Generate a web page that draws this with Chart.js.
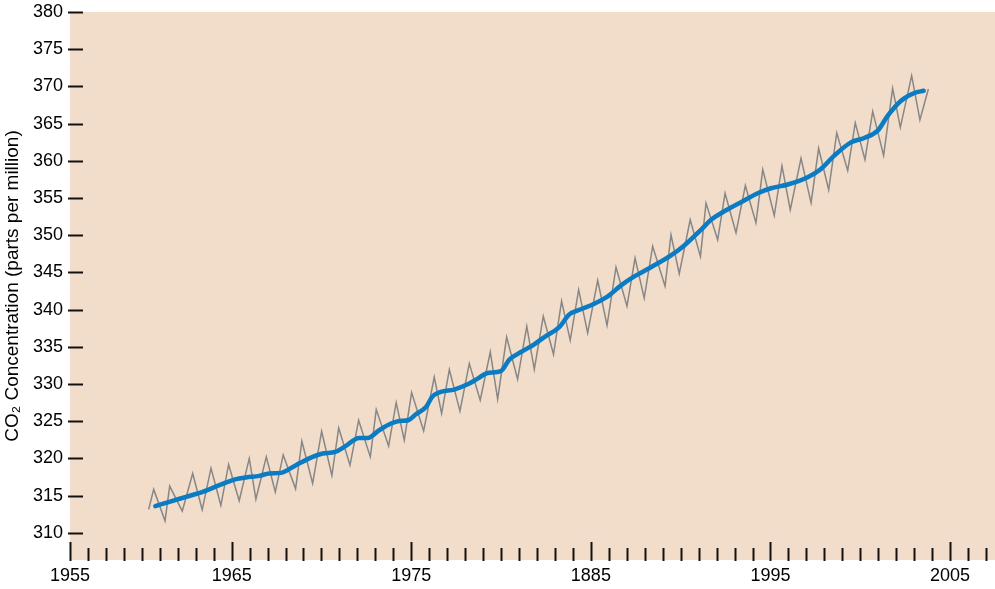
<!DOCTYPE html>
<html>
<head>
<meta charset="utf-8">
<script src="https://cdn.jsdelivr.net/npm/chart.js@4.4.1/dist/chart.umd.min.js"></script>
<style>
    html, body { margin: 0; padding: 0; background: #ffffff; }
    #wrap { width: 995px; height: 589px; position: relative; }
</style>
</head>
<body>
<div id="wrap"><canvas id="co2-chart"></canvas></div>
<script>
// 季节波动曲线（年份, ppm）
const seasonalYears = [
    1960.38, 1960.66, 1961.29, 1961.55, 1962.25, 1962.83, 1963.36, 1963.85, 1964.40, 1964.83,
    1965.42, 1965.98, 1966.35, 1966.93, 1967.43, 1967.87, 1968.56, 1968.91, 1969.51, 1970.01,
    1970.58, 1970.96, 1971.59, 1972.07, 1972.72, 1973.05, 1973.74, 1974.16, 1974.61, 1975.02,
    1975.69, 1976.28, 1976.69, 1977.12, 1977.71, 1978.23, 1978.84, 1979.40, 1979.81, 1980.31,
    1980.92, 1981.43, 1981.85, 1982.35, 1982.92, 1983.37, 1983.85, 1984.32, 1984.82, 1985.38,
    1985.90, 1986.40, 1987.01, 1987.46, 1987.97, 1988.44, 1989.13, 1989.46, 1989.92, 1990.53,
    1991.10, 1991.41, 1992.06, 1992.47, 1993.08, 1993.60, 1994.19, 1994.57, 1995.21, 1995.64,
    1996.10, 1996.70, 1997.26, 1997.68, 1998.24, 1998.69, 1999.30, 1999.72, 2000.26, 2000.69,
    2001.30, 2001.80, 2002.23, 2002.86, 2003.32, 2003.79
];
const seasonalPpm = [
    313.14, 315.83, 311.61, 316.27, 312.91, 317.97, 313.09, 318.68, 313.68, 319.18,
    314.30, 319.99, 314.52, 320.20, 315.50, 320.47, 315.91, 322.31, 316.63, 323.65,
    317.70, 324.09, 319.09, 325.13, 320.20, 326.56, 321.68, 327.50, 322.44, 328.85,
    323.69, 330.94, 326.03, 331.93, 326.34, 332.74, 327.81, 334.30, 327.95, 336.31,
    330.63, 337.74, 331.97, 339.09, 333.99, 341.14, 335.87, 342.67, 336.85, 343.92,
    337.88, 345.70, 340.47, 346.91, 341.54, 348.52, 343.15, 350.05, 344.82, 352.07,
    347.14, 354.32, 349.38, 355.64, 350.32, 356.67, 351.66, 358.82, 352.64, 359.32,
    353.41, 360.34, 354.35, 361.68, 356.09, 363.74, 358.68, 365.09, 360.16, 366.64,
    360.70, 369.73, 364.50, 371.44, 365.49, 369.65
];

// 平滑趋势线（年份, ppm）
const trendYears = [
    1960.75, 1961.53, 1962.46, 1963.39, 1964.31, 1965.24, 1965.80, 1966.54, 1967.09, 1967.75,
    1968.58, 1969.51, 1970.07, 1970.77, 1971.27, 1972.10, 1972.57, 1973.22, 1973.87, 1974.33,
    1974.83, 1975.26, 1975.82, 1976.19, 1976.65, 1977.39, 1978.14, 1978.70, 1979.25, 1979.99,
    1980.46, 1981.11, 1981.85, 1982.41, 1983.24, 1983.80, 1984.27, 1985.19, 1985.94, 1986.68,
    1987.42, 1988.35, 1989.46, 1990.20, 1991.13, 1991.69, 1992.34, 1993.36, 1994.29, 1995.03,
    1995.96, 1997.07, 1997.81, 1998.55, 1999.48, 2000.22, 2000.97, 2001.53, 2002.27, 2003.01,
    2003.53
];
const trendPpm = [
    313.58, 314.16, 314.83, 315.50, 316.40, 317.21, 317.44, 317.65, 317.97, 318.05,
    319.09, 320.20, 320.66, 320.87, 321.54, 322.75, 322.75, 323.79, 324.68, 325.03,
    325.13, 325.93, 326.91, 328.35, 328.93, 329.25, 329.96, 330.72, 331.48, 331.74,
    333.28, 334.30, 335.33, 336.31, 337.65, 339.36, 339.89, 340.79, 341.77, 343.25,
    344.46, 345.70, 347.28, 348.62, 350.72, 352.07, 353.09, 354.43, 355.64, 356.31,
    356.81, 357.79, 358.91, 360.70, 362.48, 363.07, 364.05, 366.07, 368.08, 369.11,
    369.42
];

// 坐标轴刻度
const yTicks = [310, 315, 320, 325, 330, 335, 340, 345, 350, 355, 360, 365, 370, 375, 380];
const xLabelYears = [1956, 1965, 1975, 1985, 1995, 2005];
const xLabelTexts = ['1955', '1965', '1975', '1885', '1995', '2005'];
const xFirstYear = 1956;
const xLastYear = 2007;

const FONT = '"Liberation Sans", Arial, Helvetica, sans-serif';

// 米色背景 + 手画刻度线（刻度朝内）
const plotDecor = {
    id: 'plotDecor',
    beforeDraw(chart) {
        const { ctx, chartArea } = chart;
        ctx.save();
        ctx.fillStyle = '#f1ddc9';
        ctx.fillRect(chartArea.left, chartArea.top, chartArea.right - chartArea.left, chartArea.bottom - chartArea.top);
        ctx.restore();
    },
    afterDraw(chart) {
        const { ctx, chartArea } = chart;
        const xs = chart.scales.x;
        const ys = chart.scales.y;
        ctx.save();
        ctx.strokeStyle = '#111111';
        ctx.lineWidth = 2;
        for (let yr = xFirstYear; yr <= xLastYear; yr++) {
            const px = Math.round(xs.getPixelForValue(yr)) + 0.5;
            const len = xLabelYears.includes(yr) ? 18 : 12;
            ctx.beginPath();
            ctx.moveTo(px, chartArea.bottom + 1);
            ctx.lineTo(px, chartArea.bottom - len);
            ctx.stroke();
        }
        yTicks.forEach(v => {
            const py = Math.round(ys.getPixelForValue(v)) + 0.5;
            ctx.beginPath();
            ctx.moveTo(chartArea.left - 2, py);
            ctx.lineTo(chartArea.left + 13, py);
            ctx.stroke();
        });
        ctx.restore();
    }
};

function buildPoints(xs, ys) {
    return xs.map((x, i) => ({ x, y: ys[i] }));
}

const ctx = document.getElementById('co2-chart').getContext('2d');
const co2Chart = new Chart(ctx, {
    type: 'line',
    data: {
        datasets: [
            {
                label: 'trend',
                data: buildPoints(trendYears, trendPpm),
                borderColor: '#0b7bc4',
                borderWidth: 4.5,
                borderCapStyle: 'round',
                borderJoinStyle: 'round',
                pointRadius: 0,
                tension: 0.4,
                cubicInterpolationMode: 'monotone',
                order: 0
            },
            {
                label: 'seasonal',
                data: buildPoints(seasonalYears, seasonalPpm),
                borderColor: '#878787',
                borderWidth: 1.5,
                pointRadius: 0,
                tension: 0,
                order: 1
            }
        ]
    },
    options: {
        responsive: true,
        maintainAspectRatio: false,
        animation: false,
        events: [],
        layout: { padding: { top: 12, right: 0, bottom: 0, left: 0 } },
        plugins: {
            legend: { display: false },
            tooltip: { enabled: false }
        },
        scales: {
            x: {
                type: 'linear',
                min: xFirstYear,
                max: 2007.5,
                grid: { display: false, drawTicks: false },
                border: { display: false },
                afterBuildTicks: scale => {
                    scale.ticks = xLabelYears.map(v => ({ value: v }));
                },
                afterFit: scale => {
                    scale.height = 29;
                    scale.paddingLeft = 0;
                    scale.paddingRight = 0;
                },
                ticks: {
                    autoSkip: false,
                    maxRotation: 0,
                    padding: 5,
                    color: '#000000',
                    font: { family: FONT, size: 18 },
                    callback: value => {
                        const i = xLabelYears.indexOf(value);
                        return i >= 0 ? xLabelTexts[i] : '';
                    }
                }
            },
            y: {
                min: 306.34,
                max: 380,
                grid: { display: false, drawTicks: false },
                border: { display: false },
                afterBuildTicks: scale => {
                    scale.ticks = yTicks.map(v => ({ value: v }));
                },
                afterFit: scale => {
                    scale.width = 70;
                    scale.paddingTop = 0;
                    scale.paddingBottom = 0;
                },
                ticks: {
                    padding: 7,
                    color: '#000000',
                    font: { family: FONT, size: 18 }
                },
                title: {
                    display: true,
                    text: 'CO\u2082 Concentration (parts per million)',
                    color: '#000000',
                    font: { family: FONT, size: 19 },
                    padding: { top: 1, bottom: 0 }
                }
            }
        }
    },
    plugins: [plotDecor]
});
</script>
</body>
</html>
